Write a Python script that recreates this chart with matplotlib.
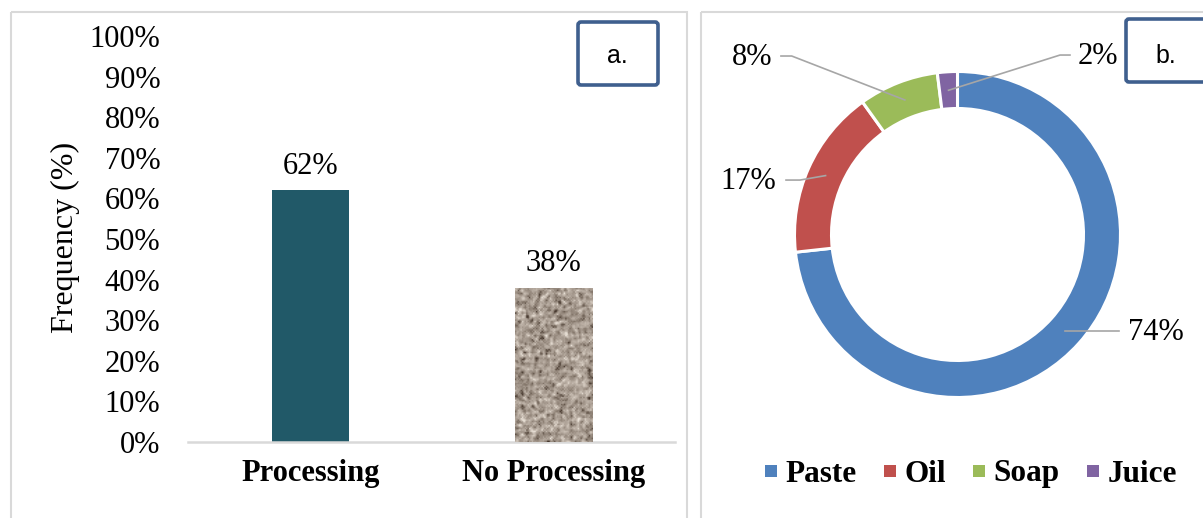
import numpy as np
import matplotlib
matplotlib.use("Agg")
import matplotlib.pyplot as plt
from matplotlib.patches import Rectangle, FancyBboxPatch
from matplotlib.lines import Line2D
from matplotlib.colors import LinearSegmentedColormap
from matplotlib.ticker import FuncFormatter

plt.rcParams["font.family"] = ["Liberation Serif", "DejaVu Serif"]

# ---- data ----
processing_cats = ["Processing", "No Processing"]
processing_freq = [62, 38]

use_cats = ["Paste", "Oil", "Soap", "Juice"]
use_share = [74, 17, 8, 2]
use_colors = ["#4F81BD", "#C0504D", "#9BBB59", "#8064A2"]

W, H = 1203, 518
fig = plt.figure(figsize=(W / 100, H / 100), dpi=100, facecolor="white")


def px_box(x0, y0, x1, y1):
    # pixel box (top-left origin) -> figure fraction rect
    return [x0 / W, (H - y1) / H, (x1 - x0) / W, (y1 - y0) / H]


# ---- panel a: bar chart ----
ax1 = fig.add_axes(px_box(188, 36, 675, 442))
ax1.set_facecolor("none")
x = np.arange(len(processing_cats))
bars = ax1.bar(x, processing_freq, width=0.317, color=["#215968", "#A89C91"], zorder=2)

# granite-like fill for the second bar
rng = np.random.default_rng(11)
noise = rng.normal(size=(110, 56))
for _ in range(1):
    noise = (noise + np.roll(noise, 1, 0) + np.roll(noise, -1, 0)
             + np.roll(noise, 1, 1) + np.roll(noise, -1, 1)) / 5
noise = (noise - noise.mean()) / noise.std()
granite = LinearSegmentedColormap.from_list(
    "granite", ["#45372d", "#8a7d71", "#a99d92", "#c4b9ae", "#ece4da"])
b = bars[1]
bx, by = b.get_x(), b.get_y()
img = ax1.imshow(noise, cmap=granite, vmin=-2.6, vmax=2.6, aspect="auto",
                 extent=(bx, bx + b.get_width(), by, by + b.get_height()),
                 interpolation="bilinear", zorder=3)
img.set_clip_path(b)

ax1.set_xlim(-0.503, 1.5)
ax1.set_ylim(0, 100)
ax1.set_yticks(np.arange(0, 101, 10))
ax1.yaxis.set_major_formatter(FuncFormatter(lambda v, _: f"{v:.0f}%"))
ax1.set_xticks(x)
ax1.set_xticklabels(processing_cats, fontweight="bold")
ax1.tick_params(axis="y", length=0, pad=20, labelsize=22)
ax1.tick_params(axis="x", length=0, pad=12, labelsize=22)
for side in ["top", "right", "left"]:
    ax1.spines[side].set_visible(False)
ax1.spines["bottom"].set_color("#d9d9d9")
ax1.spines["bottom"].set_linewidth(1.8)
ax1.set_ylabel("Frequency (%)", fontsize=23)
ax1.yaxis.set_label_coords(-0.221, 0.505)
ax1.bar_label(bars, labels=[f"{v}%" for v in processing_freq], padding=7, fontsize=22)

# ---- panel b: donut chart ----
R = 163
cx, cy = 957.5, 234.5
lim = 1.3
ax2 = fig.add_axes(px_box(cx - R * lim, cy - R * lim, cx + R * lim, cy + R * lim))
ax2.set_facecolor("none")
ring = 0.227
wedges, _ = ax2.pie(use_share, colors=use_colors, startangle=90, counterclock=False,
                    radius=1, wedgeprops=dict(width=ring, edgecolor="white", linewidth=2.2))
ax2.set_xlim(-lim, lim)
ax2.set_ylim(-lim, lim)
ax2.set_aspect("equal")
ax2.axis("off")

# leader lines: (elbow x, elbow y, end x, text x, ha) in pie units
leaders = [
    (None, None, 0.99, 1.045, "left"),
    (-0.966, 0.334, -1.052, -1.11, "right"),
    (-1.017, 1.095, -1.083, -1.135, "right"),
    (0.629, 1.101, 0.690, 0.738, "left"),
]
rmid = 1 - ring / 2
for w, val, (ex, ey, endx, tx, ha) in zip(wedges, use_share, leaders):
    ang = np.deg2rad((w.theta1 + w.theta2) / 2)
    sx, sy = rmid * np.cos(ang), rmid * np.sin(ang)
    if ex is None:
        ex, ey = endx, sy
    ax2.plot([sx, ex, endx], [sy, ey, ey], color="#a6a6a6", lw=1.2,
             clip_on=False, zorder=5)
    ax2.text(tx, ey - 0.01, f"{val}%", ha=ha, va="center", fontsize=22)

handles = [Line2D([], [], marker="s", ls="none", markersize=8.6, color=c,
                  markeredgewidth=0) for c in use_colors]
fig.legend(handles, use_cats, loc="center", bbox_to_anchor=(970 / W, (H - 474) / H),
           ncol=4, frameon=False, handlelength=0.5, handletextpad=0.22,
           columnspacing=0.8, prop=dict(size=22.5, weight="bold"))

# ---- panel frames and tags ----
ov = fig.add_axes([0, 0, 1, 1], zorder=10)
ov.set_xlim(0, W)
ov.set_ylim(H, 0)
ov.axis("off")
ov.patch.set_visible(False)
ov.add_patch(Rectangle((11, 12), 676, 520, fill=False, ec="#d9d9d9", lw=1.5, clip_on=False))
ov.add_patch(Rectangle((701, 12), 520, 520, fill=False, ec="#d9d9d9", lw=1.5, clip_on=False))
for (x0, y0, x1, y1), tag, tx in [((578, 22, 658, 85), "a.", 617.5),
                                  ((1126, 19, 1215, 82), "b.", 1166)]:
    ov.add_patch(FancyBboxPatch((x0, y0), x1 - x0, y1 - y0,
                                boxstyle="round,pad=0,rounding_size=3",
                                fc="white", ec="#3F5F8E", lw=2.6, clip_on=False))
    ov.text(tx, 63, tag, ha="center", va="baseline", fontsize=18,
            family=["Liberation Sans", "DejaVu Sans"])

fig.savefig("out.png", dpi=100, facecolor="white")
